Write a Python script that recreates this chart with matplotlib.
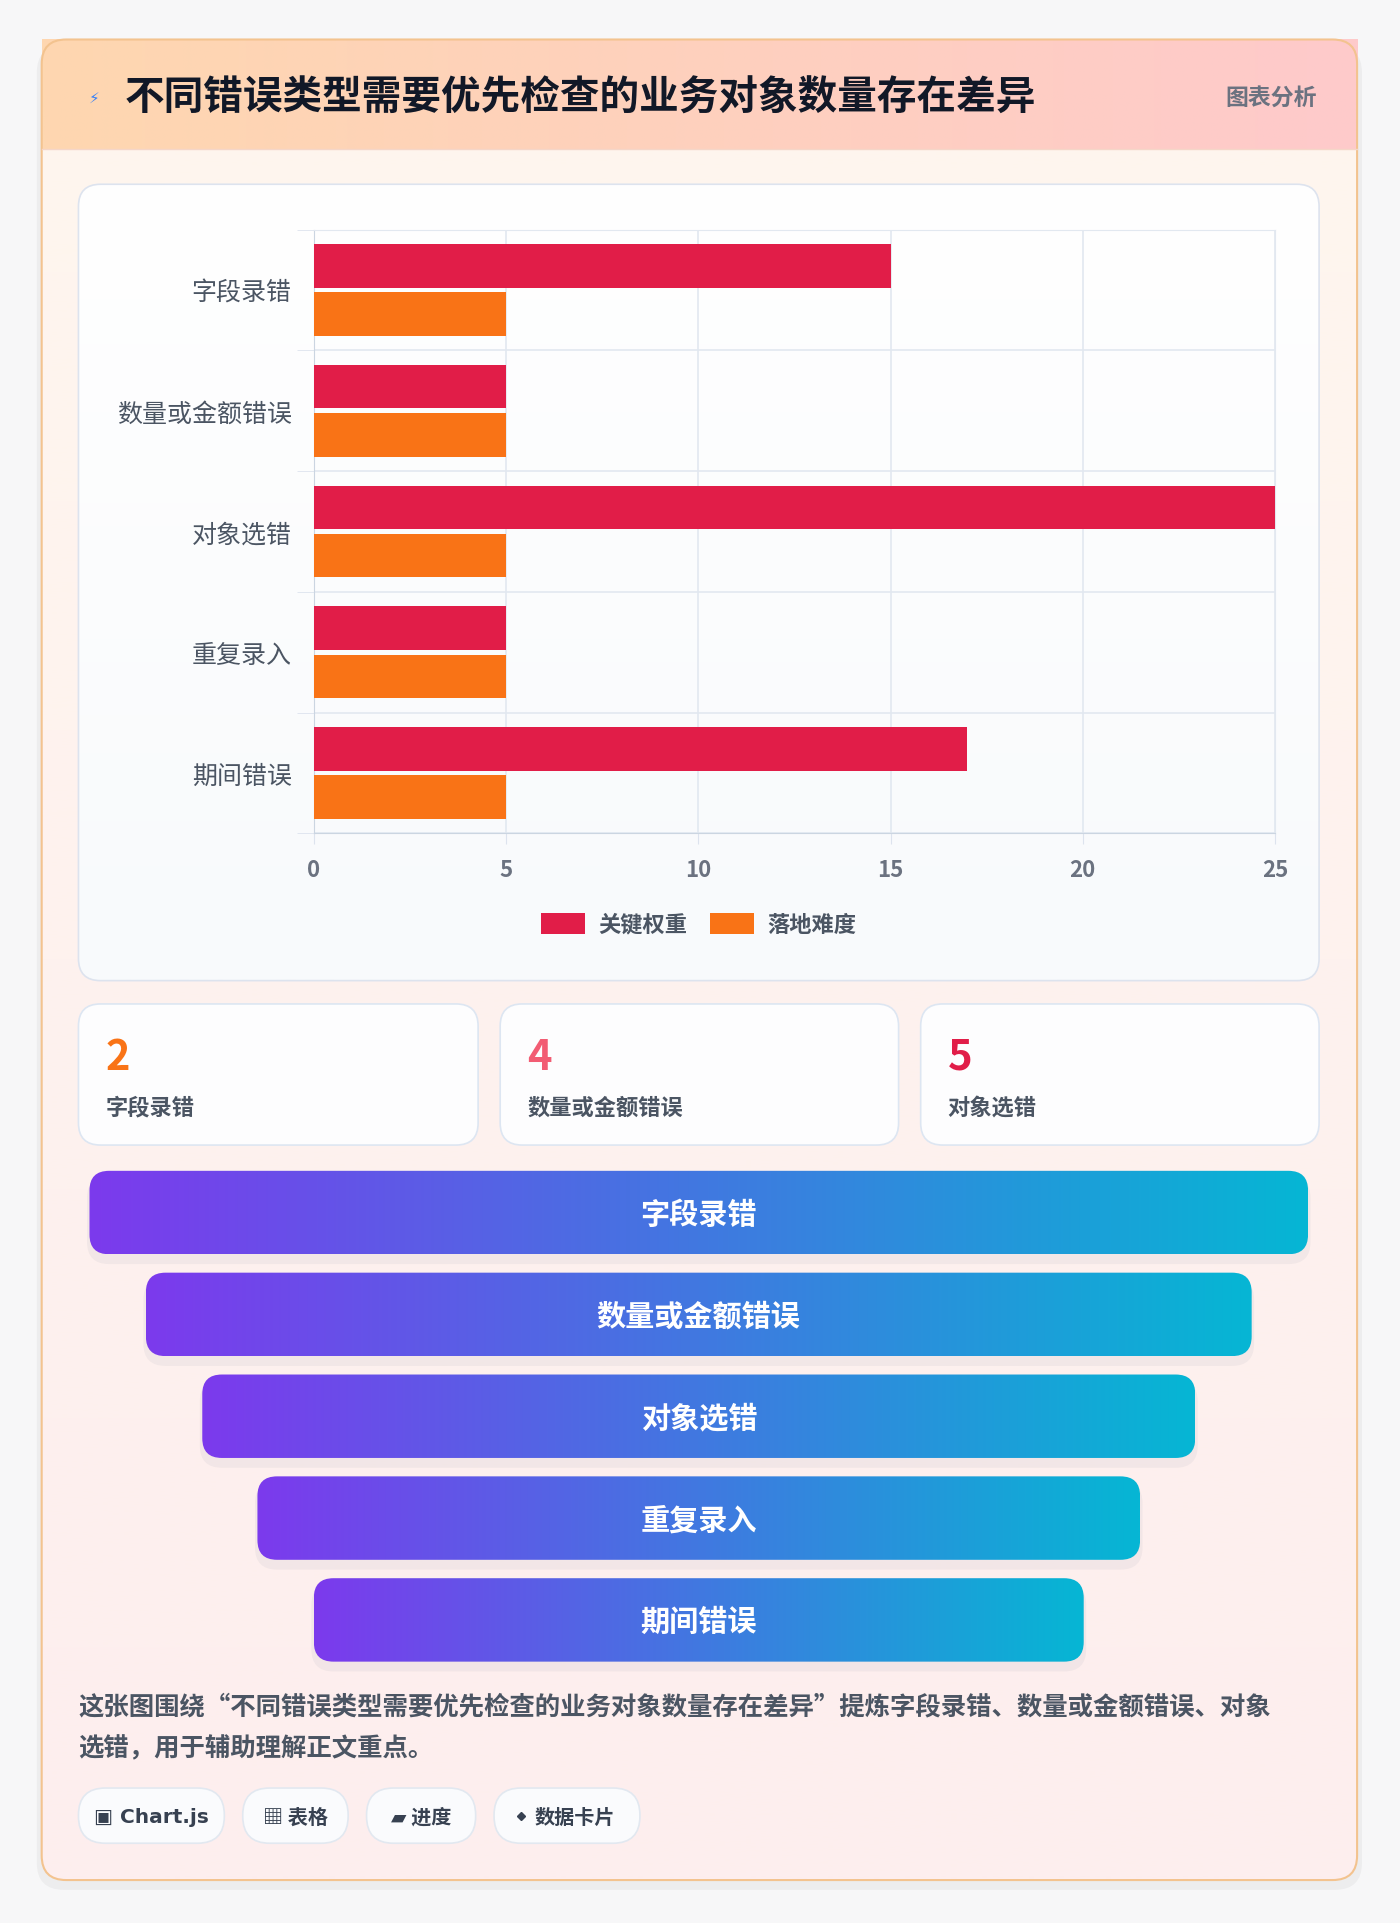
import numpy as np
import matplotlib
matplotlib.use("Agg")
import matplotlib.pyplot as plt
from matplotlib.patches import FancyBboxPatch, Rectangle
from matplotlib.colors import to_rgb

plt.rcParams['font.family'] = ['Noto Sans CJK SC', 'DejaVu Sans']

title = "不同错误类型需要优先检查的业务对象数量存在差异"
categories = ["字段录错", "数量或金额错误", "对象选错", "重复录入", "期间错误"]
key_weight = [15, 5, 25, 5, 17]
difficulty = [5, 5, 5, 5, 5]
series_names = ["关键权重", "落地难度"]
x_ticks = [0, 5, 10, 15, 20, 25]
stat_values = ["2", "4", "5"]
stat_labels = ["字段录错", "数量或金额错误", "对象选错"]
funnel_labels = ["字段录错", "数量或金额错误", "对象选错", "重复录入", "期间错误"]
desc_lines = ["这张图围绕“不同错误类型需要优先检查的业务对象数量存在差异”提炼字段录错、数量或金额错误、对象",
              "选错，用于辅助理解正文重点。"]
tags = ["▣ Chart.js", "▦ 表格", "▰ 进度", "⬩ 数据卡片"]

W, H = 1142, 1568
fig = plt.figure(figsize=(14, 19.24), dpi=100)
fig.patch.set_facecolor("#f7f7f8")
bg = fig.add_axes([0, 0, 1, 1])
bg.set_xlim(0, W); bg.set_ylim(H, 0); bg.axis("off")

def rbox(x0, y0, x1, y1, r, fc, ec="none", lw=1, z=1, alpha=1):
    p = FancyBboxPatch((x0, y0), x1 - x0, y1 - y0, boxstyle=f"round,pad=0,rounding_size={r}",
                       fc=fc, ec=ec, lw=lw, zorder=z, alpha=alpha)
    bg.add_patch(p)
    return p

def grad(patch, x0, y0, x1, y1, c0, c1, z, vertical=False):
    a, b = np.array(to_rgb(c0)), np.array(to_rgb(c1))
    t = np.linspace(0, 1, 256)
    arr = a[None, :] * (1 - t[:, None]) + b[None, :] * t[:, None]
    img = arr[None, :, :] if not vertical else arr[:, None, :]
    im = bg.imshow(img, extent=[x0, x1, y1, y0], aspect="auto", zorder=z, interpolation="bilinear")
    im.set_clip_path(patch)

# card shadow + card
rbox(30, 38, 1111, 1541, 22, "#000000", z=0.5, alpha=0.04)
card = rbox(34, 33, 1107, 1533, 20, "none", ec="#f3c38f", lw=1.5, z=3)
grad(card, 34, 33, 1107, 1533, "#fff6ee", "#fdeeee", 1, vertical=True)
grad(Rectangle((34, 33), 1073, 89, transform=bg.transData), 34, 33, 1107, 122, "#fed7b0", "#fecacb", 2)
bg.plot([34, 1107], [122, 122], color="#f5d6c8", lw=1, zorder=3)
bg.text(77, 80, "⚡", color="#3b82f6", fontsize=11, ha="center", va="center", zorder=4)
bg.text(102, 80, title, fontsize=28.5, fontweight="bold", color="#111827", va="center", zorder=4)
bg.text(1074, 80, "图表分析", fontsize=16.5, fontweight="bold", color="#6b7280", va="center", ha="right", zorder=4)

# chart panel
panel = rbox(64, 151, 1076, 800, 18, "none", ec="#dde3ee", lw=1.2, z=3)
grad(panel, 64, 151, 1076, 800, "#ffffff", "#f8fafc", 2, vertical=True)

ax = fig.add_axes([256 / W, 1 - 680 / H, (1040 - 256) / W, (680 - 188) / H])
ax.set_facecolor("none")
y = np.arange(len(categories))
h = 0.36
ax.barh(y - 0.2, key_weight, height=h, color="#e11d48", label=series_names[0], zorder=3)
ax.barh(y + 0.2, difficulty, height=h, color="#f97316", label=series_names[1], zorder=3)
ax.set_ylim(len(categories) - 0.5, -0.5)
ax.set_xlim(0, 25)
ax.set_xticks(x_ticks)
ax.set_yticks(y)
ax.set_yticklabels(categories, fontsize=18, color="#4b5563")
ax.set_yticks(np.arange(len(categories) + 1) - 0.5, minor=True)
ax.tick_params(axis="x", labelsize=16, colors="#6b7280", length=8, color="#dde3ee", pad=10)
for t in ax.get_xticklabels():
    t.set_fontweight("bold")
ax.tick_params(axis="y", which="major", length=0, pad=16)
ax.tick_params(axis="y", which="minor", length=12, color="#dde3ee")
ax.grid(True, axis="x", color="#e2e8f0", lw=1.2, zorder=0)
ax.grid(True, axis="y", which="minor", color="#e2e8f0", lw=1.2, zorder=0)
for s in ax.spines.values():
    s.set_color("#e2e8f0")
ax.spines["left"].set_color("#cbd5e1")
ax.spines["bottom"].set_color("#cbd5e1")
leg = fig.legend(loc="center", bbox_to_anchor=(570 / W, 1 - 754 / H), ncol=2, frameon=False,
                 handlelength=2.0, handleheight=1.1, columnspacing=1.0, handletextpad=0.6,
                 prop={"size": 16, "weight": "bold"})
for t in leg.get_texts():
    t.set_color("#4b5563")

# stat cards
stat_colors = ["#f97316", "#f25c73", "#e11d48"]
for (x0, x1), v, lab, c in zip([(64, 390), (408, 733), (751, 1076)], stat_values, stat_labels, stat_colors):
    rbox(x0, 819, x1, 934, 18, "#fdfdfe", ec="#dde6f2", lw=1.2, z=3)
    bg.text(x0 + 22, 862, v, fontsize=30, fontweight="bold", color=c, va="center", zorder=4)
    bg.text(x0 + 22, 903, lab, fontsize=16, fontweight="bold", color="#4b5563", va="center", zorder=4)

# funnel
fx = [(73, 1067), (119, 1021), (165, 975), (210, 930), (256, 884)]
for i, ((x0, x1), lab) in enumerate(zip(fx, funnel_labels)):
    y0 = 955 + i * 83
    rbox(x0 - 2, y0 + 4, x1 + 2, y0 + 76, 18, "#64748b", z=2.5, alpha=0.07)
    p = rbox(x0, y0, x1, y0 + 68, 16, "none", z=4)
    grad(p, x0, y0, x1, y0 + 68, "#7c3aed", "#06b6d4", 3)
    bg.text((x0 + x1) / 2, y0 + 35, lab, fontsize=21, fontweight="bold", color="white",
            ha="center", va="center", zorder=5)

# description
for j, line in enumerate(desc_lines):
    bg.text(64, 1391 + j * 34, line, fontsize=18.3, fontweight="bold", color="#4b5563", va="center",
            zorder=4, family=['Noto Sans CJK SC', 'DejaVu Sans'])

# tags
tx = [(64, 183), (198, 284), (299, 388), (403, 522)]
for (x0, x1), t in zip(tx, tags):
    rbox(x0, 1458, x1, 1503, 22, "#fafbfd", ec="#e2e8f0", lw=1.2, z=3)
    cx = (x0 + x1) / 2
    if t.startswith("⬩"):
        bg.plot(x0 + 22, 1481, marker="D", ms=4, color="#374151", zorder=4)
        bg.text(cx + 6, 1481, t[2:], fontsize=14.5, fontweight="bold", color="#374151",
                ha="center", va="center", zorder=4)
    else:
        bg.text(cx, 1481, t, fontsize=14.5, fontweight="bold", color="#374151",
                ha="center", va="center", zorder=4,
                family=['DejaVu Sans', 'Noto Sans CJK SC'] if t.startswith("▣") else ['Noto Sans CJK SC', 'DejaVu Sans'])

fig.savefig("out.png", dpi=100, facecolor=fig.get_facecolor())
